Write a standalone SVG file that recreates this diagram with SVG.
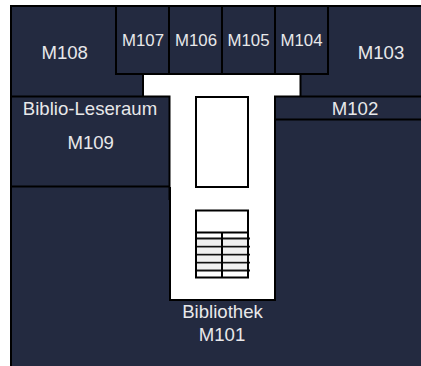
<svg xmlns="http://www.w3.org/2000/svg" width="421" height="366" viewBox="0 0 421 366">
<style>
.w{fill:none;stroke:#000;stroke-width:2}
.s{fill:none;stroke:#111;stroke-width:1.800}
.b{fill:#f0f0f0}
text{font-family:"Liberation Sans",Arial,sans-serif;font-size:18.600px;fill:#e8e8ea;text-anchor:middle}
text.n{font-size:16.800px}
</style>
<rect width="421" height="366" fill="#fff"/>
<path id="floor" d="M11 6H421V366H11Z" fill="#232a40"/>
<path id="corridor" d="M143 74H300.500V96.500H275V300H170V96.500H143Z" fill="#fff"/>
<g id="walls">
<path class="w" d="M421 6H11V366"/>
<path class="w" d="M116 6V74H328V6M169 6V74M222 6V74M275 6V74"/>
<path class="w" d="M143 74V96.500M300.500 74V96.500"/>
<path class="w" d="M11 96.500H169.500V200M11 186.500H169.500"/>
<path class="w" d="M421 96.500H275V300H170V187M275 119.500H421"/>
</g>
<g id="M108"><text x="64.700" y="58.500">M108</text></g>
<g id="M107"><text class="n" x="143" y="46">M107</text></g>
<g id="M106"><text class="n" x="196" y="46">M106</text></g>
<g id="M105"><text class="n" x="248.500" y="46">M105</text></g>
<g id="M104"><text class="n" x="301.500" y="46">M104</text></g>
<g id="M103"><text x="381" y="58.500">M103</text></g>
<g id="M102"><text x="355" y="115">M102</text></g>
<g id="M109"><text x="90" y="115">Biblio-Leseraum</text><text x="90.700" y="149">M109</text></g>
<g id="M101"><text x="222.500" y="317.500">Bibliothek</text><text x="222" y="341">M101</text></g>
<g id="shaft"><rect class="w" x="196" y="97" width="52" height="90"/></g>
<g id="stairs">
<path class="b" d="M197 240H247V245H197ZM197 248H247V253H197ZM197 256H247V261H197ZM197 264H247V269H197Z"/>
<path class="s" d="M196 238.500H250M196 246.700H250M196 254.700H250M196 262.700H250M196 270.500H250"/>
<rect class="w" x="196" y="210.500" width="52" height="67"/>
<path class="w" d="M196 232.500H248M222 232.500V277.500"/>
</g>
</svg>
